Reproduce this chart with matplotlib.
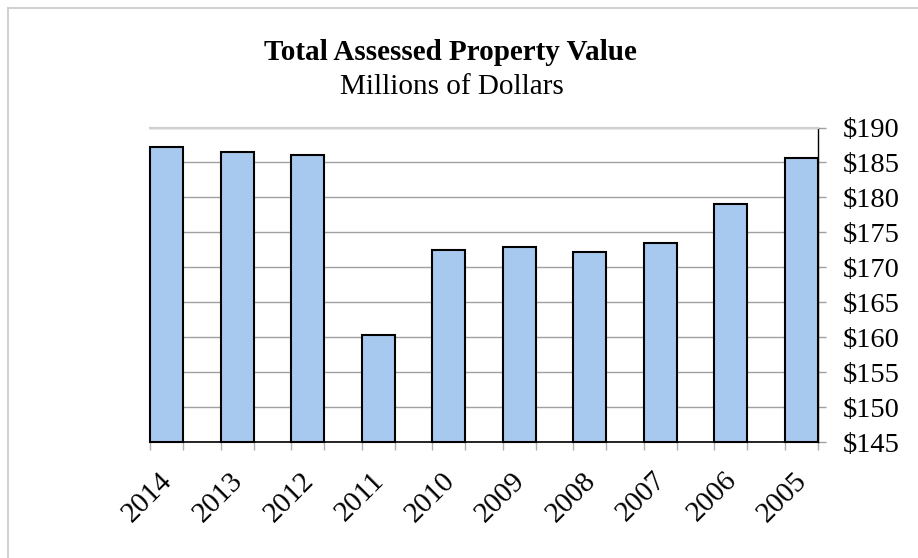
import matplotlib.pyplot as plt
from matplotlib.lines import Line2D
from matplotlib.transforms import ScaledTranslation

# Assessed property value, millions of dollars
years = ["2014", "2013", "2012", "2011", "2010", "2009", "2008", "2007", "2006", "2005"]
values = [187.2, 186.5, 186.1, 160.4, 172.5, 172.9, 172.2, 173.5, 179.1, 185.6]
y_ticks = [145, 150, 155, 160, 165, 170, 175, 180, 185, 190]
y_min = 145

plt.rcParams['font.family'] = ['Liberation Serif', 'DejaVu Serif']

fig = plt.figure(figsize=(9.18, 5.58), dpi=100)
ax = fig.add_axes([150 / 918, 1 - 442.3 / 558, 668 / 918, (442.3 - 127.5) / 558])

bar_w = 0.47
pos = list(range(len(years)))
# bars start at the axis floor so their outline is not cut off
bars = ax.bar(pos, [v - y_min for v in values], bottom=y_min, width=bar_w,
              color='#a8c9ef', edgecolor='black', linewidth=1.5, zorder=3)
for b in bars:
    b.set_clip_on(False)

ax.set_xlim(-bar_w / 2, len(years) - 1 + bar_w / 2)
ax.set_ylim(y_min, 190)

# y axis on the right, dollar labels
ax.yaxis.tick_right()
ax.set_yticks(y_ticks)
ax.set_yticklabels([f"${v}" for v in y_ticks])
ax.tick_params(axis='y', which='major', length=6, width=1, color='#a0a0a0',
               pad=12, labelsize=20.5, labelcolor='black')
ax.grid(axis='y', color='#a0a0a0', linewidth=1)
ax.set_axisbelow(True)

# x labels at bar centres, gray ticks at bar edges
ax.set_xticks(pos)
ax.set_xticklabels(years, rotation=45, ha='right')
ax.tick_params(axis='x', which='major', length=0, pad=18, labelsize=21)
edges = []
for p in pos:
    edges += [p - bar_w / 2, p + bar_w / 2]
ax.set_xticks(edges, minor=True)
ax.tick_params(axis='x', which='minor', length=6, width=1, color='#b0b0b0')
shift = ScaledTranslation(11 / 100, 0, fig.dpi_scale_trans)
for lbl in ax.get_xticklabels():
    lbl.set_transform(lbl.get_transform() + shift)

ax.spines['left'].set_visible(False)
ax.spines['top'].set_color('#d0d0d0')
ax.spines['top'].set_linewidth(1.6)
ax.spines['right'].set_color('black')
ax.spines['right'].set_linewidth(1)
ax.spines['bottom'].set_color('black')
ax.spines['bottom'].set_linewidth(1.2)

fig.text(450.5 / 918, 1 - 60 / 558, "Total Assessed Property Value",
         ha='center', va='baseline', fontsize=21, fontweight='bold')
fig.text(451.5 / 918, 1 - 94 / 558, "Millions of Dollars",
         ha='center', va='baseline', fontsize=21)

# light border of the chart area
fig.add_artist(Line2D([8 / 918, 1], [1 - 8 / 558, 1 - 8 / 558],
                      transform=fig.transFigure, color='#c8c8c8', linewidth=1.2))
fig.add_artist(Line2D([8 / 918, 8 / 918], [0, 1 - 8 / 558],
                      transform=fig.transFigure, color='#c8c8c8', linewidth=1.2))

fig.savefig("out.png", dpi=100)
